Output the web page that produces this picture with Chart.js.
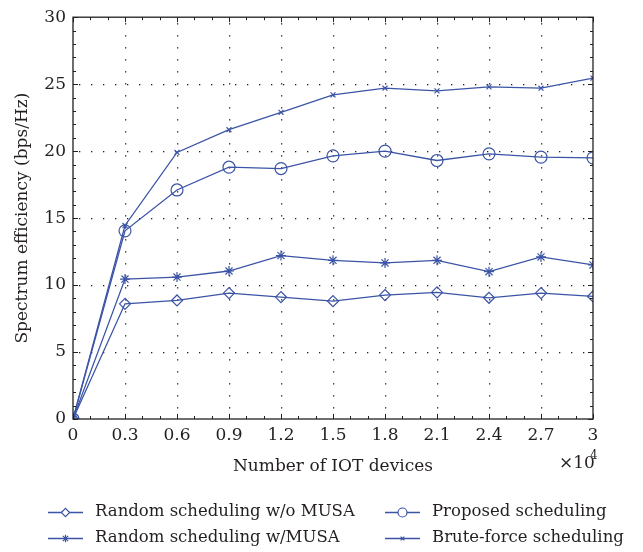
<!DOCTYPE html>
<html>
<head>
<meta charset="utf-8">
<script src="https://cdn.jsdelivr.net/npm/chart.js@4"></script>
<style>
  html, body { margin: 0; padding: 0; background: #fff; }
  #wrap { width: 643px; height: 552px; position: relative; }
</style>
</head>
<body>
<div id="wrap"><canvas id="chart" width="643" height="552"></canvas></div>
<script>
// number of IOT devices (x 10^4)
const devices = [0, 0.3, 0.6, 0.9, 1.2, 1.5, 1.8, 2.1, 2.4, 2.7, 3];
const xTickLabels = ['0', '0.3', '0.6', '0.9', '1.2', '1.5', '1.8', '2.1', '2.4', '2.7', '3'];
const yTicks = [0, 5, 10, 15, 20, 25, 30];

const randomNoMusa = [0, 8.6, 8.85, 9.4, 9.1, 8.8, 9.25, 9.45, 9.05, 9.4, 9.15];
const randomMusa   = [0, 10.45, 10.6, 11.05, 12.2, 11.85, 11.65, 11.85, 11.0, 12.1, 11.5];
const proposed     = [0, 14.05, 17.1, 18.8, 18.7, 19.65, 20.0, 19.3, 19.8, 19.55, 19.5];
const bruteForce   = [0, 14.45, 19.9, 21.6, 22.9, 24.2, 24.7, 24.5, 24.8, 24.7, 25.45];

const seriesNames = ['Random scheduling w/o MUSA', 'Proposed scheduling', 'Random scheduling w/MUSA', 'Brute-force scheduling'];

const blue = '#3b54a6';
const ink = '#231f20';
const font = '"DejaVu Serif", "Liberation Serif", serif';

function pts(ys) {
  return ys.map((y, i) => ({ x: devices[i], y: y }));
}

function ds(label, ys, style, r) {
  return {
    label: label,
    data: pts(ys),
    borderColor: blue,
    backgroundColor: 'rgba(0,0,0,0)',
    borderWidth: 1.3,
    pointStyle: style,
    pointRadius: r,
    pointBorderColor: blue,
    pointBorderWidth: 1.2,
    pointBackgroundColor: 'rgba(0,0,0,0)',
    tension: 0
  };
}

// dotted grid, inward ticks, box, titles and legend
const decor = {
  id: 'decor',
  beforeDatasetsDraw(chart) {
    const { ctx, chartArea: a, scales: { x, y } } = chart;
    ctx.save();
    ctx.fillStyle = ink;
    devices.slice(1, -1).forEach(v => {
      const px = Math.round(x.getPixelForValue(v));
      for (let yy = a.top + 6; yy < a.bottom; yy += 12) ctx.fillRect(px, yy, 1.3, 1.3);
    });
    yTicks.slice(1, -1).forEach(v => {
      const py = Math.round(y.getPixelForValue(v));
      for (let xx = a.left + 6; xx < a.right; xx += 12) ctx.fillRect(xx, py, 1.3, 1.3);
    });
    ctx.restore();
  },
  afterDraw(chart) {
    const { ctx, chartArea: a, scales: { x, y } } = chart;
    ctx.save();
    ctx.strokeStyle = ink;
    ctx.lineWidth = 1.3;
    ctx.strokeRect(a.left, a.top, a.right - a.left, a.bottom - a.top);
    ctx.lineWidth = 1;
    ctx.beginPath();
    // x ticks (major + minor every 0.1)
    for (let k = 0; k <= 30; k++) {
      const px = Math.round(x.getPixelForValue(k / 10)) + 0.5;
      const len = k % 3 === 0 ? 5 : 3;
      ctx.moveTo(px, a.bottom); ctx.lineTo(px, a.bottom - len);
      ctx.moveTo(px, a.top); ctx.lineTo(px, a.top + len);
    }
    // y ticks (major + minor every 1)
    for (let k = 0; k <= 30; k++) {
      const py = Math.round(y.getPixelForValue(k)) + 0.5;
      const len = k % 5 === 0 ? 5 : 3;
      ctx.moveTo(a.left, py); ctx.lineTo(a.left + len, py);
      ctx.moveTo(a.right, py); ctx.lineTo(a.right - len, py);
    }
    ctx.stroke();

    ctx.fillStyle = ink;
    ctx.font = '17px ' + font;
    ctx.textAlign = 'center';
    ctx.textBaseline = 'middle';
    ctx.fillText('Number of IOT devices', (a.left + a.right) / 2, 467);
    ctx.textAlign = 'left';
    ctx.fillText('\u00d710', 559, 464);
    ctx.font = '12px ' + font;
    ctx.fillText('4', 590, 456);

    ctx.save();
    ctx.font = '17px ' + font;
    ctx.translate(23, (a.top + a.bottom) / 2);
    ctx.rotate(-Math.PI / 2);
    ctx.textAlign = 'center';
    ctx.fillText('Spectrum efficiency (bps/Hz)', 0, 0);
    ctx.restore();

    // legend: two columns, two rows
    const slots = [[48, 512], [385, 512], [48, 538], [385, 538]];
    chart.data.datasets.forEach((d, i) => {
      const [lx, ly] = slots[i];
      ctx.strokeStyle = blue;
      ctx.lineWidth = 1.3;
      ctx.beginPath();
      ctx.moveTo(lx, ly + 0.5); ctx.lineTo(lx + 35, ly + 0.5);
      ctx.stroke();
      ctx.fillStyle = '#fff';
      ctx.lineWidth = 1.2;
      Chart.helpers.drawPoint(ctx, { pointStyle: d.pointStyle, radius: d.pointRadius * 0.75, borderWidth: 1.2 }, lx + 17.5, ly + 0.5);
      ctx.fillStyle = ink;
      ctx.font = '16.5px ' + font;
      ctx.textAlign = 'left';
      ctx.fillText(d.label, lx + 47, ly);
    });
    ctx.restore();
  }
};

new Chart(document.getElementById('chart'), {
  type: 'line',
  data: {
    datasets: [
      ds(seriesNames[0], randomNoMusa, 'rectRot', 5.5),
      ds(seriesNames[1], proposed, 'circle', 6),
      ds(seriesNames[2], randomMusa, 'star', 5),
      ds(seriesNames[3], bruteForce, 'crossRot', 3.5)
    ]
  },
  options: {
    responsive: false,
    animation: false,
    layout: { padding: { left: 0, right: 50, top: 9, bottom: 0 } },
    plugins: { legend: { display: false }, tooltip: { enabled: false } },
    scales: {
      x: {
        type: 'linear',
        min: 0, max: 3,
        afterBuildTicks: s => { s.ticks = devices.map(v => ({ value: v })); },
        afterFit: s => { s.height = 133; },
        grid: { display: false, drawTicks: false },
        border: { display: false },
        ticks: {
          padding: 6,
          color: ink,
          font: { family: font, size: 17 },
          maxRotation: 0,
          autoSkip: false,
          callback: (v, i) => xTickLabels[i]
        }
      },
      y: {
        min: 0, max: 30,
        afterBuildTicks: s => { s.ticks = yTicks.map(v => ({ value: v })); },
        afterFit: s => { s.width = 73; },
        grid: { display: false, drawTicks: false },
        border: { display: false },
        ticks: {
          padding: 7,
          color: ink,
          font: { family: font, size: 17 }
        }
      }
    }
  },
  plugins: [decor]
});
</script>
</body>
</html>
